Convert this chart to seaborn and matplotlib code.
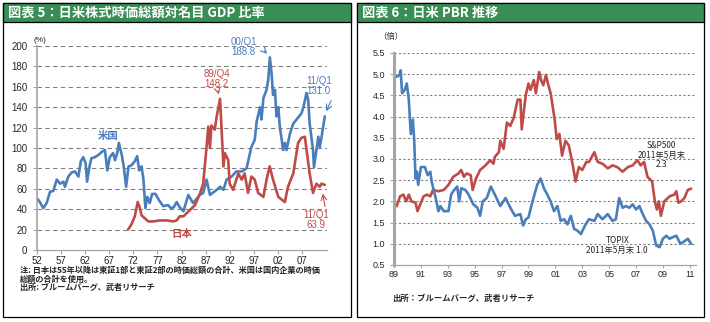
import matplotlib
matplotlib.use("Agg")
import matplotlib.pyplot as plt
from matplotlib.patches import Rectangle
import seaborn as sns

# ---------------- data ----------------
# Market capitalisation / nominal GDP (%)
US_YEARS = [1952.0, 1952.6, 1953.3, 1954.0, 1954.7, 1955.4, 1956.1, 1956.8, 1957.5, 1957.8,
            1958.5, 1959.2, 1959.9, 1960.6, 1961.1, 1961.6, 1962.1, 1962.4, 1962.9, 1963.3,
            1964.0, 1964.7, 1965.4, 1966.1, 1966.6, 1967.1, 1967.8, 1968.2, 1968.7, 1969.0,
            1969.6, 1970.0, 1970.5, 1971.0, 1971.6, 1972.3, 1972.8, 1973.2, 1973.7, 1974.1,
            1974.5, 1974.9, 1975.4, 1975.9, 1976.6, 1977.3, 1978.2, 1979.2, 1979.8, 1980.4,
            1981.0, 1981.6, 1982.4, 1983.4, 1984.4, 1985.8, 1986.5, 1987.2, 1987.9, 1989.3,
            1990.0, 1990.7, 1991.35, 1992.4, 1993.4, 1994.5, 1995.5, 1996.5, 1997.2, 1997.6,
            1998.3, 1998.6, 1999.0, 1999.65, 2000.0, 2000.34, 2000.7, 2001.0, 2001.4, 2001.7,
            2002.1, 2002.4, 2003.1, 2003.45, 2003.8, 2004.5, 2005.2, 2005.9, 2006.9, 2007.3,
            2007.95, 2008.3, 2008.6, 2009.3, 2009.5, 2010.0, 2010.4, 2010.7, 2011.05, 2011.4,
            2011.75]
US_VALUES = [50.6, 47, 41, 46, 57, 58, 69, 65, 67, 62,
             72, 76, 77, 72, 87, 91, 85, 67, 82, 90,
             91, 93, 96, 98, 78, 91, 95, 88, 96, 105,
             93, 82, 62, 82, 83, 87, 92, 78, 82, 69,
             41, 52, 46, 55, 55, 49, 43, 44, 41, 42,
             47, 42, 38, 54, 46, 54, 56, 69, 54, 59,
             62, 59, 69, 72, 77, 77, 80, 101, 108, 126,
             140, 128, 149, 157, 167, 188.8, 173, 152, 157, 131,
             140, 121, 98, 105, 98, 114, 124, 128, 134, 140,
             154, 147, 124, 98, 81, 98, 111, 101, 110, 121,
             131.0]

JP_YEARS = [1970.9, 1971.6, 1972.3, 1972.9, 1973.3, 1973.7, 1974.4, 1975.1, 1976.1, 1977.5,
            1978.9, 1980.3, 1981.0, 1981.6, 1982.4, 1983.7, 1984.8, 1985.8, 1986.5, 1987.2,
            1987.55, 1987.9, 1988.2, 1988.9, 1989.3, 1990.0, 1990.7, 1991.0, 1991.7, 1992.0,
            1992.7, 1993.8, 1994.5, 1995.1, 1995.8, 1996.5, 1997.2, 1997.9, 1999.0, 1999.65,
            2000.3, 2001.0, 2002.1, 2003.45, 2004.1, 2005.2, 2006.2, 2006.9, 2007.6, 2008.6,
            2009.3, 2010.0, 2010.7, 2011.05, 2011.75]
JP_VALUES = [20, 25, 33, 47, 42, 34, 31, 28, 28, 29,
             29, 28, 29, 33, 33, 39, 44, 55, 65, 101,
             121, 100, 122, 118, 131, 148.2, 82, 95, 88, 65,
             59, 75, 69, 75, 56, 72, 69, 56, 52, 69,
             82, 69, 52, 47, 62, 75, 105, 110, 111, 75,
             56, 65, 62, 65, 63.9]

# Price-to-book ratio (times)
TOPIX_YEARS = [1989.0, 1989.2, 1989.4, 1989.5, 1989.6, 1989.8, 1989.95, 1990.1, 1990.25, 1990.4,
               1990.5, 1990.6, 1990.7, 1990.8, 1991.0, 1991.3, 1991.5, 1991.7, 1991.8, 1992.1,
               1992.3, 1992.45, 1992.7, 1993.05, 1993.25, 1993.4, 1993.7, 1993.85, 1994.0, 1994.3,
               1994.55, 1994.9, 1995.2, 1995.4, 1995.6, 1995.9, 1996.2, 1996.5, 1996.9, 1997.3,
               1997.65, 1998.0, 1998.4, 1998.6, 1998.8, 1999.0, 1999.3, 1999.65, 1999.9, 2000.15,
               2000.4, 2000.65, 2000.9, 2001.15, 2001.4, 2001.65, 2001.9, 2002.15, 2002.4, 2002.65,
               2002.9, 2003.25, 2003.5, 2003.9, 2004.15, 2004.5, 2004.9, 2005.25, 2005.5, 2005.75,
               2006.0, 2006.25, 2006.5, 2006.75, 2007.0, 2007.25, 2007.5, 2007.75, 2008.0, 2008.25,
               2008.5, 2008.75, 2009.0, 2009.25, 2009.5, 2009.75, 2010.0, 2010.3, 2010.6, 2010.85,
               2011.1]
TOPIX_PBR = [5.0, 4.94, 4.98, 5.09, 4.55, 4.63, 4.78, 4.4, 3.59, 3.93,
             3.47, 2.54, 2.7, 2.39, 2.81, 2.81, 2.62, 2.7, 2.47, 2.08,
             1.77, 1.89, 1.77, 1.77, 2.16, 2.24, 2.35, 2.0, 2.31, 2.27,
             2.16, 1.93, 1.85, 1.66, 2.0, 2.08, 2.35, 2.16, 1.89, 2.08,
             1.85, 1.66, 1.7, 1.43, 1.58, 1.62, 2.0, 2.39, 2.54, 2.31,
             2.16, 2.0, 1.77, 1.89, 1.54, 1.58, 1.46, 1.66, 1.35, 1.31,
             1.23, 1.46, 1.58, 1.54, 1.7, 1.58, 1.7, 1.54, 1.58, 2.08,
             1.85, 1.89, 1.85, 1.93, 1.81, 1.89, 1.7, 1.54, 1.46, 1.31,
             0.96, 0.92, 1.12, 1.19, 1.12, 1.16, 1.19, 1.0, 1.06, 1.12,
             1.0]

SP_YEARS = [1989.0, 1989.2, 1989.45, 1989.7, 1989.9, 1990.1, 1990.3, 1990.6, 1990.75, 1990.95,
            1991.2, 1991.45, 1991.7, 1991.9, 1992.3, 1992.7, 1993.05, 1993.4, 1993.8, 1994.0,
            1994.2, 1994.4, 1994.7, 1994.85, 1995.1, 1995.4, 1995.8, 1996.15, 1996.4, 1996.5,
            1996.8, 1996.9, 1997.15, 1997.4, 1997.65, 1997.9, 1998.2, 1998.4, 1998.5, 1998.8,
            1999.0, 1999.15, 1999.4, 1999.55, 1999.8, 1999.95, 2000.1, 2000.3, 2000.45, 2000.65,
            2000.8, 2000.95, 2001.1, 2001.3, 2001.5, 2001.75, 2002.0, 2002.3, 2002.5, 2002.75,
            2003.0, 2003.3, 2003.5, 2003.9, 2004.15, 2004.5, 2004.9, 2005.25, 2005.6, 2006.0,
            2006.4, 2006.75, 2007.1, 2007.35, 2007.6, 2007.85, 2008.2, 2008.4, 2008.55, 2008.7,
            2008.85, 2009.1, 2009.5, 2009.85, 2010.0, 2010.15, 2010.35, 2010.6, 2010.85, 2011.1]
SP_PBR = [1.93, 1.89, 2.12, 2.16, 2.0, 2.16, 2.0, 1.97, 1.77, 1.93,
          2.12, 2.16, 2.12, 2.27, 2.24, 2.27, 2.39, 2.58, 2.66, 2.74,
          2.58, 2.66, 2.62, 2.27, 2.54, 2.74, 2.85, 2.97, 2.89, 3.05,
          3.16, 3.43, 3.24, 3.86, 3.78, 3.97, 4.4, 4.4, 3.7, 4.51,
          4.78, 4.63, 4.86, 4.55, 5.05, 4.85, 4.74, 4.98, 4.78, 4.55,
          4.24, 3.93, 3.47, 3.59, 3.08, 3.43, 3.32, 2.85, 2.47, 2.81,
          2.74, 2.93, 2.93, 3.16, 2.93, 2.89, 2.78, 2.85, 2.81, 2.7,
          2.81, 2.85, 2.97, 2.85, 2.93, 2.58, 2.47, 2.0, 1.81, 2.0,
          1.66, 2.0, 2.12, 2.16, 2.24, 1.97, 2.0, 2.08, 2.27, 2.3]

LEFT_XTICKS = list(range(1952, 2008, 5))
LEFT_YTICKS = list(range(0, 201, 20))
RIGHT_XTICKS = list(range(1989, 2012, 2))
RIGHT_YTICKS = [0.5, 1.0, 1.5, 2.0, 2.5, 3.0, 3.5, 4.0, 4.5, 5.0, 5.5]

# ---------------- style ----------------
sns.set_style("white")
plt.rcParams["font.family"] = ["Noto Sans CJK JP", "DejaVu Sans"]
plt.rcParams["axes.unicode_minus"] = False

NUM_FONT = "Liberation Sans"
BLUE = "#4a7ebb"
RED = "#be4b48"
GREEN = "#388e56"
GRID = "#808080"
SPINE = "#a6a6a6"

W, H = 710, 322
fig = plt.figure(figsize=(W / 100, H / 100), dpi=100)


def fx(x):
    return x / W


def fy(y):
    return 1 - y / H


def panel(x0, x1, title):
    # outer frame
    fig.add_artist(Rectangle((fx(x0), fy(317)), fx(x1 - x0), (317 - 3) / H,
                             transform=fig.transFigure, facecolor="white",
                             edgecolor="black", lw=0.9, zorder=0))
    # title bar
    fig.add_artist(Rectangle((fx(x0), fy(22)), fx(x1 - x0), 19 / H,
                             transform=fig.transFigure, facecolor=GREEN,
                             edgecolor="black", lw=0.9, zorder=1))
    fig.text(fx(x0 + 5), fy(12.5), title, color="white", fontsize=9.5,
             fontweight="bold", va="center", ha="left", zorder=2)


panel(3, 351, "図表 5：日米株式時価総額対名目 GDP 比率")
panel(357, 704, "図表 6：日米 PBR 推移")


def style_axes(ax, spine_lw):
    for s in ["top", "right"]:
        ax.spines[s].set_visible(False)
    ax.spines["left"].set_color(SPINE)
    ax.spines["left"].set_linewidth(spine_lw)
    ax.spines["bottom"].set_color(SPINE)
    ax.spines["bottom"].set_linewidth(0.9)
    ax.set_xlabel("")
    ax.set_ylabel("")
    ax.set_facecolor("none")
    for lab in ax.get_xticklabels() + ax.get_yticklabels():
        lab.set_family(NUM_FONT)


# ---------------- left: market cap / GDP ----------------
axl = fig.add_axes([fx(37), fy(250), fx(327 - 37), (250 - 46) / H])
sns.lineplot(x=US_YEARS, y=US_VALUES, ax=axl, color=BLUE, linewidth=1.9)
sns.lineplot(x=JP_YEARS, y=JP_VALUES, ax=axl, color=RED, linewidth=1.9)
axl.set_xlim(1952, 2012.2)
axl.set_ylim(0, 200)
axl.set_xticks(LEFT_XTICKS)
axl.set_xticklabels([f"{y % 100:02d}" for y in LEFT_XTICKS])
axl.set_yticks(LEFT_YTICKS)
axl.set_yticklabels([str(v) for v in LEFT_YTICKS])
style_axes(axl, 1.2)
axl.tick_params(axis="x", length=3, color=SPINE, labelsize=7, pad=1.5, bottom=True)
axl.tick_params(axis="y", length=3, color=SPINE, labelsize=7, pad=4, left=True)
for v in LEFT_YTICKS[1:]:
    axl.axhline(v, color=GRID, lw=0.8, ls=(0, (4, 3)), zorder=0.5)

axl.text(1966.7, 112, "米国", color=BLUE, fontsize=7.5, fontweight="bold",
         ha="center", va="center")
axl.text(1982.1, 15.5, "日本", color=RED, fontsize=7.5, fontweight="bold",
         ha="center", va="center")

axl.text(1994.9, 199, "00/Q1\n188.8", color=BLUE, fontsize=7, ha="center",
         va="center", linespacing=0.95, family=NUM_FONT)
axl.annotate("", xy=(2000.2, 190.5), xytext=(1998.8, 197),
             arrowprops=dict(arrowstyle="->", color=BLUE, lw=0.8))
axl.text(1989.3, 167.5, "89/Q4\n148.2", color=RED, fontsize=7, ha="center",
         va="center", linespacing=0.95, family=NUM_FONT)
axl.annotate("", xy=(1989.95, 150), xytext=(1989.4, 158.5),
             arrowprops=dict(arrowstyle="->", color=RED, lw=0.8))
axl.text(2010.5, 161, "11/Q1\n131.0", color=BLUE, fontsize=7, ha="center",
         va="center", linespacing=0.95, family=NUM_FONT)
axl.annotate("", xy=(2011.8, 133.5), xytext=(2013.3, 149),
             arrowprops=dict(arrowstyle="->", color=BLUE, lw=0.8),
             annotation_clip=False)
axl.text(2010.0, 29.5, "11/Q1\n63.9", color=RED, fontsize=7, ha="center",
         va="center", linespacing=0.95, family=NUM_FONT)
axl.annotate("", xy=(2011.2, 58), xytext=(2011.9, 40),
             arrowprops=dict(arrowstyle="->", color=RED, lw=0.8),
             annotation_clip=False)

fig.text(fx(33), fy(41), "(%)", fontsize=6, ha="left", va="center", family=NUM_FONT)
fig.text(fx(20), fy(270.5),
         "注: 日本は55年以降は東証1部と東証2部の時価総額の合計、米国は国内企業の時価",
         fontsize=5.9, fontweight="bold", ha="left", va="center")
fig.text(fx(20), fy(279), "総額の合計を使用。", fontsize=5.9, fontweight="bold",
         ha="left", va="center")
fig.text(fx(20), fy(287.5), "出所: ブルームバーグ、武者リサーチ", fontsize=5.9,
         fontweight="bold", ha="left", va="center")

# ---------------- right: PBR ----------------
axr = fig.add_axes([fx(394), fy(265), fx(696 - 394), (265 - 53) / H])
sns.lineplot(x=SP_YEARS, y=SP_PBR, ax=axr, color=RED, linewidth=1.9)
sns.lineplot(x=TOPIX_YEARS, y=TOPIX_PBR, ax=axr, color=BLUE, linewidth=1.9)
axr.set_xlim(1989, 2011.46)
axr.set_ylim(0.5, 5.5)
axr.set_xticks(RIGHT_XTICKS)
axr.set_xticklabels([f"{y % 100:02d}" for y in RIGHT_XTICKS])
axr.set_yticks(RIGHT_YTICKS)
axr.set_yticklabels([f"{v:.1f}" for v in RIGHT_YTICKS])
style_axes(axr, 2.2)
axr.tick_params(axis="x", length=2, color=SPINE, labelsize=6.5, pad=1.5, bottom=True)
axr.tick_params(axis="y", length=3, color=SPINE, labelsize=6.5, pad=3.5, left=True)
for v in RIGHT_YTICKS[1:]:
    axr.axhline(v, color=GRID, lw=0.8, ls=(0, (2, 2)), zorder=0.5)

axr.text(2008.9, 3.09, "S&P500\n2011年5月末\n2.3", fontsize=6, ha="center",
         va="center", linespacing=1.05)
axr.text(2005.6, 0.96, "TOPIX\n2011年5月末 1.0", fontsize=6, ha="center",
         va="center", linespacing=1.05)

fig.text(fx(378), fy(37), "（倍）", fontsize=6, ha="left", va="center")
fig.text(fx(392), fy(298), "出所：ブルームバーグ、武者リサーチ", fontsize=6,
         fontweight="bold", ha="left", va="center")

fig.savefig("out.png", dpi=100)
